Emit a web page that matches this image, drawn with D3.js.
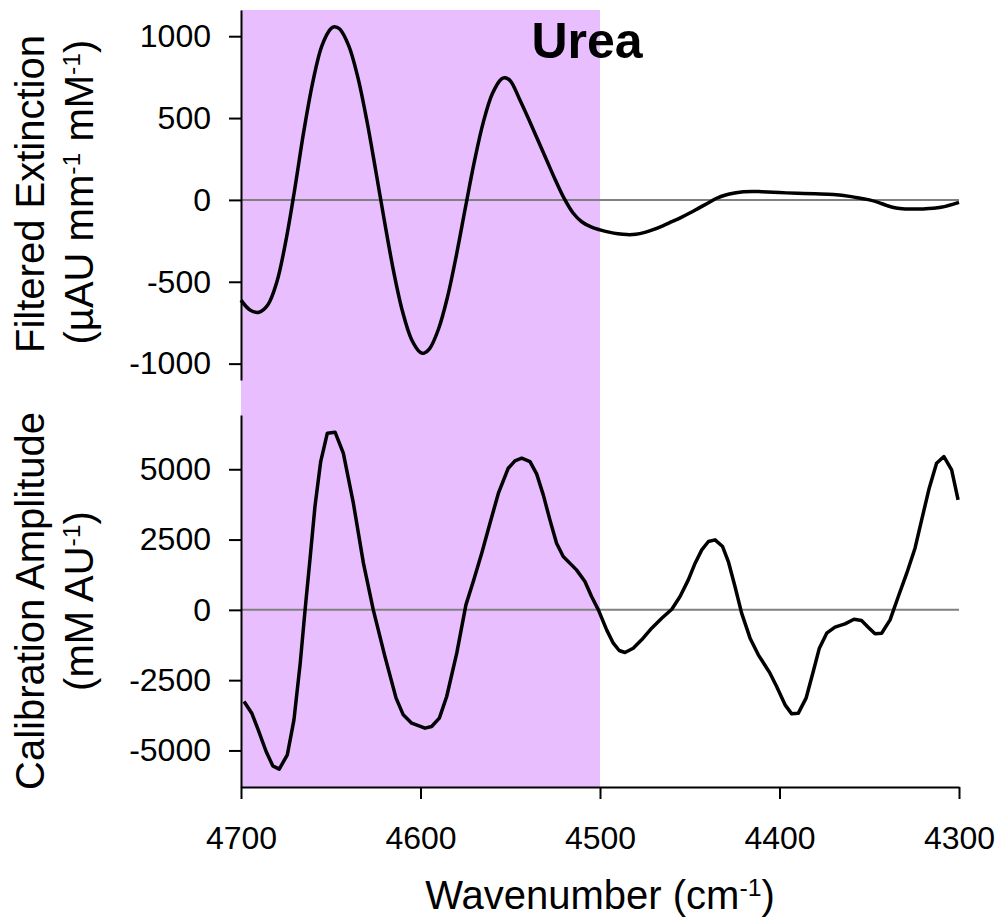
<!DOCTYPE html>
<html>
<head>
<meta charset="utf-8">
<script src="https://cdn.jsdelivr.net/npm/d3@7/dist/d3.min.js"></script>
<style>
  html, body { margin: 0; padding: 0; background: #fff; }
  svg { display: block; font-family: Arial, "Liberation Sans", sans-serif; }
</style>
</head>
<body>
<svg id="chart" width="999" height="922"></svg>
<script>
// ---------- data ----------
const xTicks = [4700, 4600, 4500, 4400, 4300];
const topTicks = [-1000, -500, 0, 500, 1000];
const bottomTicks = [-5000, -2500, 0, 2500, 5000];
const highlightRange = [4700, 4500];

// Filtered extinction (µAU mm^-1 mM^-1)
const extWavenumber = [4700,4695,4690,4685,4680,4675,4670,4665,4660,4655,4650,4648,4645,4640,4635,4630,4625,4620,4615,4610,4605,4600,4598,4595,4590,4585,4580,4575,4570,4565,4560,4555,4553,4550,4545,4540,4535,4530,4525,4520,4515,4510,4505,4500,4495,4490,4485,4480,4475,4470,4465,4460,4455,4450,4445,4440,4435,4430,4425,4420,4415,4410,4400,4390,4380,4370,4360,4355,4350,4345,4340,4335,4330,4320,4310,4300];
const extValue = [-612,-672,-686,-640,-500,-250,70,420,720,940,1046,1058,1044,942,753,491,183,-135,-435,-682,-852,-932,-936,-910,-790,-595,-337,-48,234,475,648,738,746,728,620,500,375,250,125,10,-80,-135,-165,-183,-197,-207,-212,-210,-198,-180,-158,-133,-108,-80,-50,-20,10,30,42,50,52,50,45,40,37,33,20,10,0,-15,-35,-50,-55,-55,-45,-15];

// Calibration amplitude (mM AU^-1)
const calWavenumber = [4698.3,4694,4690.4,4686,4682.3,4678.7,4674.2,4670.5,4667,4664.3,4661.6,4658.8,4655.6,4651.9,4647.6,4643,4637.4,4631.8,4626.3,4619.8,4613.6,4609.6,4604.9,4597.5,4593.8,4589.5,4585.4,4579.8,4574.7,4570.6,4565.9,4561.3,4556.6,4551.1,4547.4,4543.6,4539,4535.3,4531.6,4527.9,4524.2,4520.5,4513.1,4508.4,4504.7,4500.9,4496.3,4492.6,4489.3,4486.1,4481.5,4476.8,4471.2,4465.6,4460,4455.4,4450.8,4447,4443.3,4439.6,4435.9,4431.7,4428.5,4424.8,4421.1,4416.4,4411.8,4405.3,4401.6,4396.9,4393.2,4389.5,4385.2,4381.2,4377.8,4373.7,4369.1,4363.5,4358.5,4354.3,4350.6,4346.8,4343.1,4338.4,4333.8,4329.1,4324.5,4320.8,4316.6,4312.5,4308.4,4304.1,4300.5];
const calValue = [-3260,-3675,-4267,-5038,-5547,-5665,-5156,-3911,-1896,0,1778,3673,5274,6283,6319,5572,3794,1661,0,-1661,-3140,-3734,-4029,-4207,-4148,-3851,-3082,-1541,178,1008,2015,3082,4148,5038,5298,5393,5274,4836,4089,3200,2371,1896,1422,1008,474,0,-711,-1185,-1446,-1517,-1363,-1067,-652,-297,24,474,1067,1660,2134,2430,2489,2252,1719,830,-118,-1007,-1600,-2252,-2726,-3378,-3698,-3674,-3141,-2193,-1363,-830,-616,-498,-332,-380,-616,-853,-830,-356,474,1304,2193,3200,4327,5216,5452,4978,3911];

// ---------- layout ----------
const svg = d3.select("#chart");
const x = d3.scaleLinear().domain([4700, 4300]).range([241, 959]);
const yTop = d3.scaleLinear().domain([-1100, 1160]).range([380, 10]);
const yBot = d3.scaleLinear().domain([-6300, 6930]).range([787, 415]);

const purple = "#E8BEFF";
const fontTick = 32;
const fontTitle = 40;
const fmt = d => String(d);

// highlight band spans both panels
svg.append("rect")
  .attr("x", x(highlightRange[0]))
  .attr("width", x(highlightRange[1]) - x(highlightRange[0]))
  .attr("y", yTop.range()[1])
  .attr("height", yBot.range()[0] - yTop.range()[1])
  .attr("fill", purple);

// zero lines
svg.append("line").attr("x1", x(4700)).attr("x2", x(4300))
  .attr("y1", yTop(0)).attr("y2", yTop(0))
  .attr("stroke", "#808080").attr("stroke-width", 2);
svg.append("line").attr("x1", x(4700)).attr("x2", x(4300))
  .attr("y1", yBot(0)).attr("y2", yBot(0))
  .attr("stroke", "#808080").attr("stroke-width", 2);

// axes
function styleAxis(g) {
  g.selectAll(".domain").attr("stroke", "#000").attr("stroke-width", 2);
  g.selectAll(".tick line").attr("stroke", "#000").attr("stroke-width", 2);
  g.selectAll(".tick text").attr("fill", "#000")
    .style("font-size", fontTick + "px")
    .style("font-family", "Arial, 'Liberation Sans', sans-serif");
}

const gTop = svg.append("g").attr("transform", "translate(241,0)")
  .call(d3.axisLeft(yTop).tickValues(topTicks).tickFormat(fmt).tickSize(12).tickSizeOuter(0).tickPadding(18));
styleAxis(gTop);

const gBot = svg.append("g").attr("transform", "translate(241,0)")
  .call(d3.axisLeft(yBot).tickValues(bottomTicks).tickFormat(fmt).tickSize(12).tickSizeOuter(0).tickPadding(18));
styleAxis(gBot);

const gX = svg.append("g").attr("transform", "translate(0,787)")
  .call(d3.axisBottom(x).tickValues(xTicks).tickFormat(fmt).tickSize(12).tickSizeOuter(0).tickPadding(27));
styleAxis(gX);

// curves
const extData = extWavenumber.map((w, i) => [w, extValue[i]]);
const calData = calWavenumber.map((w, i) => [w, calValue[i]]);

svg.append("path").datum(extData)
  .attr("fill", "none").attr("stroke", "#000").attr("stroke-width", 3.5)
  .attr("stroke-linejoin", "round")
  .attr("d", d3.line().x(d => x(d[0])).y(d => yTop(d[1])).curve(d3.curveCatmullRom));

svg.append("path").datum(calData)
  .attr("fill", "none").attr("stroke", "#000").attr("stroke-width", 3.5)
  .attr("stroke-linejoin", "round")
  .attr("d", d3.line().x(d => x(d[0])).y(d => yBot(d[1])));

// titles
function titleWithSup(parent, parts, attrs) {
  const t = parent.append("text");
  Object.entries(attrs).forEach(([k, v]) => t.attr(k, v));
  parts.forEach(p => {
    const s = t.append("tspan").text(p.t);
    if (p.sup) s.attr("baseline-shift", "super").style("font-size", "62%");
  });
  return t;
}

svg.append("text").text("Urea")
  .attr("x", 587).attr("y", 58).attr("text-anchor", "middle")
  .style("font-size", "50px").style("font-weight", "bold");

// top y title
svg.append("text").text("Filtered Extinction")
  .attr("transform", "translate(44,194) rotate(-90)")
  .attr("text-anchor", "middle").style("font-size", fontTitle + "px");
titleWithSup(svg, [{t: "(\u00B5AU mm"}, {t: "-1", sup: true}, {t: " mM"}, {t: "-1", sup: true}, {t: ")"}],
  {transform: "translate(93,192) rotate(-90)", "text-anchor": "middle", style: "font-size:" + fontTitle + "px"});

// bottom y title
svg.append("text").text("Calibration Amplitude")
  .attr("transform", "translate(44,601) rotate(-90)")
  .attr("text-anchor", "middle").style("font-size", fontTitle + "px");
titleWithSup(svg, [{t: "(mM AU"}, {t: "-1", sup: true}, {t: ")"}],
  {transform: "translate(93,601) rotate(-90)", "text-anchor": "middle", style: "font-size:" + fontTitle + "px"});

// x title
titleWithSup(svg, [{t: "Wavenumber (cm"}, {t: "-1", sup: true}, {t: ")"}],
  {x: 600, y: 909, "text-anchor": "middle", style: "font-size:" + fontTitle + "px"});
</script>
</body>
</html>
